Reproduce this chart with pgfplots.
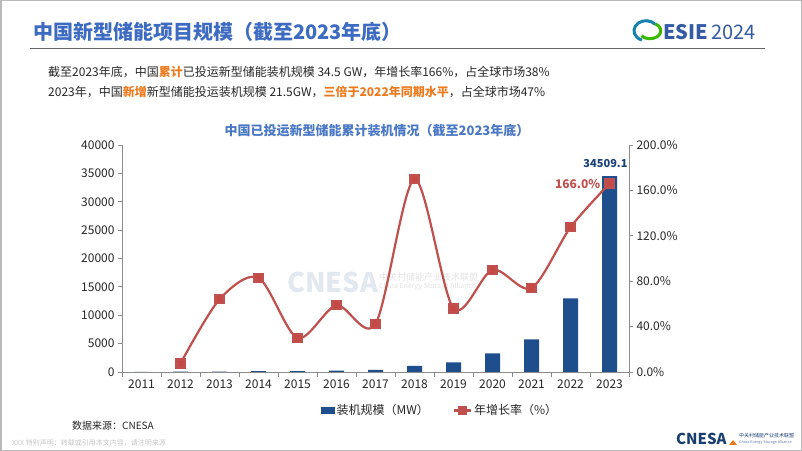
\documentclass[border=0pt]{standalone}
\usepackage{pgfplots}
\pgfplotsset{compat=1.18}
\usepackage{fontspec}
\setmainfont{Noto Sans CJK SC}
\definecolor{ttlblue}{HTML}{3D6BC1}
\definecolor{chblue}{HTML}{4A78C4}
\definecolor{barblue}{HTML}{1F4E8C}
\definecolor{lnred}{HTML}{C0504D}
\definecolor{hlorange}{HTML}{EE7A1E}
\definecolor{txt}{HTML}{262626}
\definecolor{axgray}{HTML}{8C8C8C}
\definecolor{wmark}{HTML}{E2E8F0}
\newcommand{\fs}[1]{\fontsize{#1bp}{#1bp}\selectfont}
\begin{document}
\begin{tikzpicture}
\useasboundingbox (0,0) rectangle (802bp,451bp);
\fill[white] (0,0) rectangle (802bp,451bp);
\draw[gray!55, line width=1.5bp] (0.75bp,0.75bp) rectangle (801.25bp,450.25bp);

% slide header
\node[anchor=west, text=ttlblue, font=\fs{20}\bfseries, inner sep=0] at (33bp,419bp) {中国新型储能项目规模（截至2023年底）};
\draw[gray!80!black, line width=0.8bp] (30bp,403bp) -- (765bp,403bp);
% ESIE logo
\draw[color=barblue!70!cyan, line width=3bp] (646bp,419bp) ++(40:12bp) arc (40:250:12bp and 10bp);
\draw[color=green!60!black!70!lime, line width=3bp] (646bp,419bp) ++(220:6bp) arc (220:420:11bp and 8bp);
\node[anchor=west, text=ttlblue!85!black, font=\fs{20}\bfseries, inner sep=0] at (663bp,419bp) {ESIE};
\node[anchor=west, text=ttlblue!85!black, font=\fs{20}, inner sep=0] at (711bp,419bp) {2024};

% text lines
\node[anchor=west, text=txt, font=\fs{12}, inner sep=0] at (48bp,379bp)
  {截至2023年底，中国\textcolor{hlorange}{\bfseries 累计}已投运新型储能装机规模 34.5 GW，年增长率166\%，占全球市场38\%};
\node[anchor=west, text=txt, font=\fs{12}, inner sep=0] at (48bp,359bp)
  {2023年，中国\textcolor{hlorange}{\bfseries 新增}新型储能投运装机规模 21.5GW，\textcolor{hlorange}{\bfseries 三倍于2022年同期水平}，占全球市场47\%};

% chart title
\node[text=chblue, font=\fs{13}\bfseries, inner sep=0] at (377bp,320bp) {中国已投运新型储能累计装机情况（截至2023年底）};

% watermark
\node[anchor=west, text=wmark, font=\fs{27}\bfseries, inner sep=0] at (287bp,169bp) {CNESA};
\node[anchor=west, text=gray!22, font=\fs{9}, inner sep=0] at (379bp,174bp) {中关村储能产业技术联盟};
\node[anchor=west, text=gray!22, font=\fs{7}, inner sep=0] at (379bp,164bp) {China Energy Storage Alliance};

\begin{axis}[
  at={(122bp,79bp)}, anchor=south west,
  scale only axis, width=507bp, height=227bp,
  xmin=-0.5, xmax=12.5, ymin=0, ymax=40000,
  axis x line*=bottom, axis y line*=left,
  axis line style={axgray, line width=0.8bp},
  xtick={0,...,12}, major x tick style={draw=none},
  xticklabels={2011,2012,2013,2014,2015,2016,2017,2018,2019,2020,2021,2022,2023},
  minor xtick={-0.5,0.5,...,12.5},
  minor x tick style={axgray, line width=0.8bp},
  minor tick length=5bp,
  ytick={0,5000,...,40000},
  ytick style={axgray, line width=0.8bp},
  major tick length=4bp,
  tick align=outside,
  scaled y ticks=false,
  /pgf/number format/1000 sep={},
  /pgf/number format/assume math mode=true,
  tick label style={font=\fs{12}, text=txt},
  legend style={at={(0.627,-0.17)}, anchor=center, draw=none, fill=none,
    font=\fs{12}, text=txt, legend columns=2,
    /tikz/every even column/.append style={column sep=22bp}},
  legend cell align=left,
]
\addplot[ybar, bar width=15bp, fill=barblue, draw=none,
  legend image code/.code={\fill[barblue] (0bp,-3.5bp) rectangle (14bp,3.5bp);}]
  coordinates {(0,42) (1,45) (2,74) (3,135) (4,176) (5,243) (6,390) (7,1072.7) (8,1709.6) (9,3269.2) (10,5729.7) (11,12970) (12,34509.1)};
\addlegendentry{装机规模（MW）}
\addlegendimage{lnred, line width=2.2bp, mark=square*, mark size=3bp}
\addlegendentry{年增长率（\%）}
\node[anchor=south, text=barblue!85!black, font=\fs{11}\bfseries, inner sep=2bp] at ([xshift=-4bp]axis cs:12,35600) {34509.1};
\end{axis}

\begin{axis}[
  at={(122bp,79bp)}, anchor=south west,
  scale only axis, width=507bp, height=227bp,
  xmin=-0.5, xmax=12.5, ymin=0, ymax=200,
  axis x line=none, axis y line*=right,
  axis line style={axgray, line width=0.8bp},
  ytick={0,40,...,200},
  ytick style={axgray, line width=0.8bp},
  major tick length=4bp,
  tick align=outside,
  yticklabel={\pgfmathprintnumber[fixed,fixed zerofill,precision=1,assume math mode=true]{\tick}\%},
  tick label style={font=\fs{12}, text=txt},
]
\addplot[lnred, line width=2.2bp, smooth, tension=0.5, mark=square*, mark size=4bp,
  mark options={fill=lnred!90!red, draw=none}]
  coordinates {(1,7.5) (2,64) (3,83) (4,30) (5,58.7) (6,42.3) (7,169.8) (8,56) (9,90) (10,74) (11,127.5) (12,166)};
\node[anchor=east, text=lnred, font=\fs{12}\bfseries, inner sep=0] at ([xshift=-9bp]axis cs:12,166) {166.0\%};
\end{axis}

% footer
\node[anchor=west, text=txt, font=\fs{10}, inner sep=0] at (72bp,25bp) {数据来源：CNESA};
\node[anchor=west, text=gray!45, font=\fs{7}, inner sep=0] at (12bp,8bp) {XXX 特别声明：转载或引用本文内容，请注明来源};
\node[anchor=west, text=barblue!80!black, font=\fs{15}\bfseries, inner sep=0] at (676bp,12bp) {CNESA};
\fill[hlorange] (729bp,6bp) -- (737bp,6bp) -- (733bp,11bp) -- cycle;
\node[anchor=west, text=barblue!80!black, font=\fs{5}, inner sep=0] at (739bp,15.5bp) {中关村储能产业技术联盟};
\node[anchor=west, text=barblue!70, font=\fs{3.8}, inner sep=0] at (739bp,9bp) {China Energy Storage Alliance};
\end{tikzpicture}
\end{document}
